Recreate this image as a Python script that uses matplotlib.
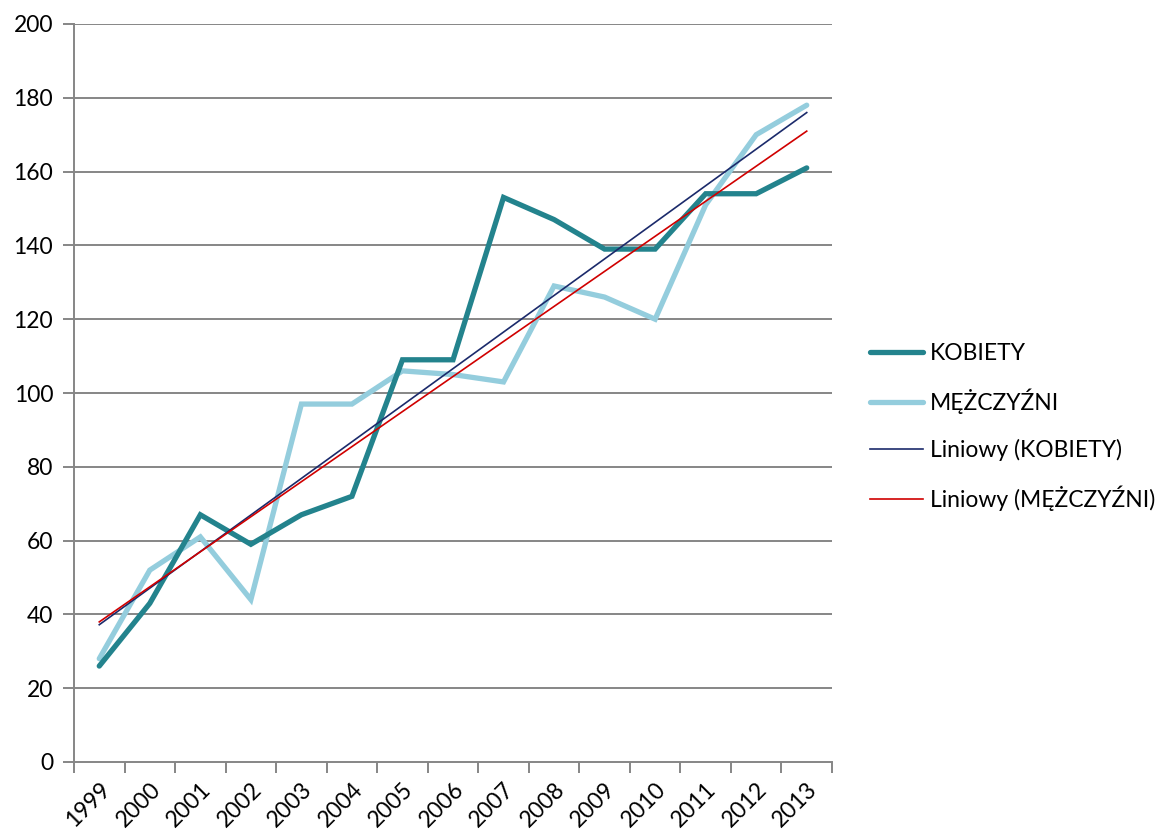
import numpy as np
import matplotlib
matplotlib.use("Agg")
import matplotlib.pyplot as plt
from matplotlib.ticker import FixedLocator, NullFormatter

plt.rcParams['font.family'] = ['Lato', 'DejaVu Sans']

years = ['1999', '2000', '2001', '2002', '2003', '2004', '2005', '2006',
         '2007', '2008', '2009', '2010', '2011', '2012', '2013']
kobiety = [26, 43, 67, 59, 67, 72, 109, 109, 153, 147, 139, 139, 154, 154, 161]
mezczyzni = [28, 52, 61, 44, 97, 97, 106, 105, 103, 129, 126, 120, 151, 170, 178]
y_ticks = [0, 20, 40, 60, 80, 100, 120, 140, 160, 180, 200]

fig = plt.figure(figsize=(11.64, 8.32), dpi=100)
ax = fig.add_axes([74/1164, 1-762/832, (832-74)/1164, (762-24)/832])

x = np.arange(len(years))
grid_c = '#868686'
for t in y_ticks[1:]:
    ax.axhline(t, color=grid_c, lw=1.4, zorder=1)

ax.plot(x, kobiety, color='#23838D', lw=3.8, solid_capstyle='round',
        solid_joinstyle='miter', label='KOBIETY', zorder=3)
ax.plot(x, mezczyzni, color='#94CDDD', lw=3.8, solid_capstyle='round',
        solid_joinstyle='miter', label='MĘŻCZYŹNI', zorder=2)

pk = np.polyfit(x, kobiety, 1)
pm = np.polyfit(x, mezczyzni, 1)
ax.plot(x, np.polyval(pk, x), color='#1B2A6B', lw=1.2, label='Liniowy (KOBIETY)', zorder=4)
ax.plot(x, np.polyval(pm, x), color='#D00000', lw=1.2, label='Liniowy (MĘŻCZYŹNI)', zorder=4)

fs = 16.5
ax.set_xlim(-0.5, len(years) - 0.5)
ax.set_ylim(0, 200)
ax.set_yticks(y_ticks)
ax.set_xticks(x)
ax.set_xticklabels(years, rotation=45, ha='right', rotation_mode='anchor', fontsize=fs)
ax.xaxis.set_minor_locator(FixedLocator(np.arange(-0.5, len(years), 1.0)))
ax.xaxis.set_minor_formatter(NullFormatter())
ax.tick_params(axis='x', which='major', length=0, pad=12)
ax.tick_params(axis='x', which='minor', length=8, width=1.4, color=grid_c)
ax.tick_params(axis='y', length=8, width=1.4, color=grid_c, labelsize=fs, pad=7)

for s in ['top', 'right']:
    ax.spines[s].set_visible(False)
for s in ['left', 'bottom']:
    ax.spines[s].set_color(grid_c)
    ax.spines[s].set_linewidth(1.4)

leg = fig.legend(loc='center left', bbox_to_anchor=(849/1164, 1-427/832), frameon=False,
                 fontsize=fs, handlelength=2.35, handletextpad=0.3, labelspacing=1.08)

fig.savefig('out.png', dpi=100)
